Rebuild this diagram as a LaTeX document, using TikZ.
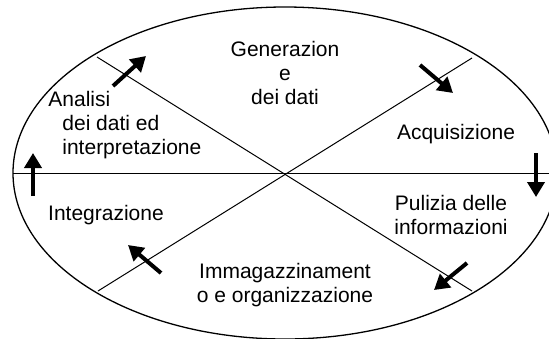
\documentclass[tikz,border=0pt]{standalone}
\usepackage{fontspec}
\setmainfont{Liberation Sans}
\usetikzlibrary{arrows.meta}

\begin{document}
\begin{tikzpicture}[
    x=0.5pt,
    y=-0.5pt,
    phase/.style={
        font=\fontsize{10.5}{12}\selectfont,
        align=center,
        inner sep=0pt
    },
    line/.style={
        draw,
        line width=0.5pt
    },
    flow/.style={
        draw,
        line width=2pt,
        -{Triangle[length=7.5pt,width=8.5pt]}
    }
]
\useasboundingbox (0,0) rectangle (549,338);

% Cycle
\path [line, line width=0.65pt] (285,173) ellipse [x radius=272, y radius=166];
\coordinate (west) at (13,173);
\coordinate (east) at (549,173);
\coordinate (nw) at (97,57);
\coordinate (se) at (472,291);
\coordinate (ne) at (472,58);
\coordinate (sw) at (98,291);
\path [line] (west) -- (east);
\path [line] (nw) -- (se);
\path [line] (ne) -- (sw);

% Nodes
\node [phase] (gen) at (285,73) {Generazion\\e\\dei dati};
\node [phase] (acq) at (456,134) {Acquisizione};
\node [phase] (pul) at (451,215) {Pulizia delle\\informazioni};
\node [phase] (imm) at (285,285) {Immagazzinament\\o e organizzazione};
\node [phase] (int) at (106,215) {Integrazione};
\node [phase, align=left, anchor=north west] (ana) at (48,91)
    {Analisi\\\hspace*{7pt}dei dati ed\\\hspace*{7pt}interpretazione};

% Arrows
\path [flow] (113,86) -- (146,56);
\path [flow] (420,65) -- (453,93);
\path [flow] (536,153) -- (536,197);
\path [flow] (467,263) -- (434,290);
\path [flow] (161,273) -- (128,245);
\path [flow] (33,196) -- (33,153);

\end{tikzpicture}
\end{document}
